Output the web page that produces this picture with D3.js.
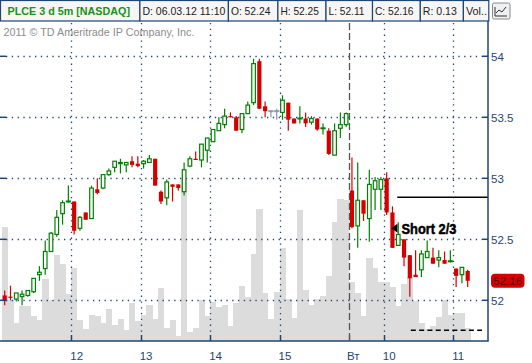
<!DOCTYPE html>
<html>
<head>
<meta charset="utf-8">
<script src="https://cdn.jsdelivr.net/npm/d3@7"></script>
<style>
  body { margin: 0; background: #fff; }
  svg { display: block; font-family: "Liberation Sans", Arial, sans-serif; }
</style>
</head>
<body>
<div id="chart"></div>
<script>
// ------------------------------------------------------------------
// Data (5 min bars, PLCE)
var times = [
  "05.03 11:00","05.03 11:05","05.03 11:10","05.03 11:15","05.03 11:20","05.03 11:25","05.03 11:30","05.03 11:35","05.03 11:40","05.03 11:45","05.03 11:50","05.03 11:55",
  "05.03 12:00","05.03 12:05","05.03 12:10","05.03 12:15","05.03 12:20","05.03 12:25","05.03 12:30","05.03 12:35","05.03 12:40","05.03 12:45","05.03 12:50","05.03 12:55",
  "05.03 13:00","05.03 13:05","05.03 13:10","05.03 13:15","05.03 13:20","05.03 13:25","05.03 13:30","05.03 13:35","05.03 13:40","05.03 13:45","05.03 13:50","05.03 13:55",
  "05.03 14:00","05.03 14:05","05.03 14:10","05.03 14:15","05.03 14:20","05.03 14:25","05.03 14:30","05.03 14:35","05.03 14:40","05.03 14:45","05.03 14:50","05.03 14:55",
  "05.03 15:00","05.03 15:05","05.03 15:10","05.03 15:15","05.03 15:20","05.03 15:25","05.03 15:30","05.03 15:35","05.03 15:40","05.03 15:45","05.03 15:50","05.03 15:55",
  "06.03 09:30","06.03 09:35","06.03 09:40","06.03 09:45","06.03 09:50","06.03 09:55",
  "06.03 10:00","06.03 10:05","06.03 10:10","06.03 10:15","06.03 10:20","06.03 10:25","06.03 10:30","06.03 10:35","06.03 10:40","06.03 10:45","06.03 10:50","06.03 10:55",
  "06.03 11:00","06.03 11:05","06.03 11:10"
];
var open = [
  52.04,52.03,52.01,52.03,52.04,52.07,52.21,52.26,52.40,52.54,52.71,52.81,
  52.81,52.59,52.72,52.67,52.91,52.92,53.03,53.09,53.12,53.11,53.14,53.12,
  53.12,53.13,53.16,52.89,52.84,52.95,52.95,52.89,53.10,53.16,53.15,53.23,
  53.30,53.39,53.44,53.51,53.50,53.40,53.53,53.62,53.96,53.59,53.55,53.55,
  53.54,53.62,53.49,53.49,53.49,53.46,53.49,53.41,53.39,53.19,53.41,53.44,
  52.90,52.61,52.82,52.67,52.91,52.91,
  53.00,52.72,52.45,52.50,52.37,52.21,52.25,52.35,52.35,52.33,52.33,52.32,
  52.26,52.21,52.24
];
var high = [
  52.08,52.12,52.06,52.08,52.08,52.18,52.28,52.49,52.56,52.74,52.82,52.94,
  52.81,52.69,52.72,52.94,53.00,53.03,53.08,53.14,53.16,53.13,53.18,53.18,
  53.15,53.19,53.16,52.90,52.99,52.95,52.95,53.13,53.18,53.22,53.28,53.33,
  53.40,53.50,53.57,53.54,53.51,53.53,53.63,53.98,53.98,53.63,53.55,53.57,
  53.68,53.62,53.49,53.59,53.54,53.51,53.49,53.45,53.41,53.45,53.54,53.54,
  53.17,53.13,52.82,53.07,53.01,53.01,
  53.05,52.77,52.64,52.50,52.37,52.41,52.41,52.49,52.43,52.41,52.40,52.41,
  52.26,52.27,52.25
];
var low = [
  51.96,52.00,51.99,51.96,52.03,52.06,52.16,52.21,52.40,52.52,52.62,52.80,
  52.54,52.57,52.66,52.67,52.87,52.91,53.02,53.05,53.04,53.05,53.09,53.09,
  53.08,53.13,52.94,52.79,52.78,52.81,52.90,52.86,53.09,53.15,53.09,53.13,
  53.30,53.39,53.41,53.50,53.39,53.37,53.53,53.60,53.57,53.50,53.50,53.48,
  53.48,53.39,53.45,53.45,53.42,53.44,53.39,53.36,53.19,53.19,53.33,53.42,
  52.59,52.43,52.65,52.48,52.74,52.74,
  52.70,52.43,52.45,52.28,52.03,52.19,52.19,52.35,52.30,52.27,52.30,52.31,
  52.11,52.14,52.11
];
var close = [
  52.00,52.02,52.06,52.05,52.08,52.18,52.23,52.40,52.55,52.68,52.80,52.81,
  52.57,52.68,52.66,52.92,52.88,53.03,53.06,53.14,53.13,53.13,53.11,53.10,
  53.14,53.16,52.94,52.81,52.97,52.93,52.92,53.07,53.16,53.15,53.28,53.33,
  53.40,53.45,53.51,53.50,53.39,53.53,53.60,53.94,53.57,53.55,53.55,53.55,
  53.64,53.48,53.45,53.49,53.45,53.49,53.40,53.41,53.20,53.39,53.44,53.53,
  52.60,52.82,52.71,52.95,52.98,52.99,
  52.72,52.43,52.54,52.35,52.18,52.19,52.38,52.40,52.30,52.35,52.30,52.32,
  52.20,52.27,52.16
];
var volume = [
  114000,41000,18000,35000,35000,25000,21000,62000,41000,86000,77000,47000,
  73000,21000,12000,26000,25000,18000,32000,16000,22000,11000,38000,20000,
  26000,36000,22000,53000,13000,21000,5000,163000,9000,13000,41000,25000,
  39000,34000,36000,15000,38000,55000,44000,87000,132000,48000,22000,49000,
  93000,42000,23000,131000,51000,36000,42000,45000,65000,119000,142000,141000,
  59000,48000,25000,83000,73000,59000,
  59000,54000,35000,57000,64000,40000,18000,12000,15000,24000,41000,26000,
  28000,28000,13000
];
var tickTimes  = ["05.03 12:00","05.03 13:00","05.03 14:00","05.03 15:00","06.03 09:30","06.03 10:00","06.03 11:00"];
var tickLabels = ["12","13","14","15","Вт","10","11"];
var priceTicks = [52, 52.5, 53, 53.5, 54];
var title = "PLCE 3 d 5m [NASDAQ]";
var headerCells = ["D: 06.03.12 11:10","O: 52.24","H: 52.25","L: 52.11","C: 52.16","R: 0.13","Vol.."];
var lastPrice = 52.16;
var stopLevel = 52.845;
var volLevel = 10700;
var noteText = "Short 2/3";
var notePrice = 52.59;

// ------------------------------------------------------------------
// Layout
var width = 532, height = 363;
var plotRight = 488, plotTop = 21, plotBottom = 341;
var navy = "#1f4573", green = "#008000", red = "#d40000", grey = "#8a9bb0";

var svg = d3.select("#chart").append("svg")
  .attr("width", width)
  .attr("height", height);

var x = d3.scaleBand().domain(times).range([1.8, 1.8 + times.length * 5.7875]);
var bw = x.bandwidth();
var y = d3.scaleLinear().domain([52, 54]).range([300.3, 56.3]);
var yv = d3.scaleLinear().domain([0, 170000]).range([plotBottom, plotBottom - 170]);

var bars = times.map(function(t, i) {
  return { t: t, o: open[i], h: high[i], l: low[i], c: close[i], v: volume[i], pc: i > 0 ? close[i - 1] : open[i] };
});

// ------------------------------------------------------------------
// volume
svg.append("g").selectAll("rect")
  .data(bars).enter().append("rect")
  .attr("x", function(d) { return x(d.t); })
  .attr("width", bw + 0.4)
  .attr("y", function(d) { return yv(d.v); })
  .attr("height", function(d) { return plotBottom - yv(d.v); })
  .attr("fill", "#dcdcdc")
  .attr("shape-rendering", "crispEdges");

// ------------------------------------------------------------------
// grid
var grid = svg.append("g");
grid.selectAll(".hg").data(priceTicks).enter().append("line")
  .attr("x1", 6).attr("x2", plotRight - 6)
  .attr("y1", function(d) { return Math.round(y(d)) + 0.5; })
  .attr("y2", function(d) { return Math.round(y(d)) + 0.5; })
  .attr("stroke", navy).attr("stroke-width", 1.3)
  .attr("stroke-dasharray", "1.3,4.5");

grid.selectAll(".vg").data(tickTimes).enter().append("line")
  .attr("x1", function(d) { return Math.round(x(d)) + 0.5; })
  .attr("x2", function(d) { return Math.round(x(d)) + 0.5; })
  .attr("y1", plotTop + 2).attr("y2", plotBottom - 6)
  .attr("stroke", function(d, i) { return tickLabels[i] == "Вт" ? "#555" : navy; })
  .attr("stroke-width", 1.3)
  .attr("stroke-dasharray", function(d, i) { return tickLabels[i] == "Вт" ? "7,3" : "1.3,4.5"; });

// ------------------------------------------------------------------
// candles
var cg = svg.append("g").selectAll("g")
  .data(bars).enter().append("g");

function colorOf(d) {
  if (d.c > d.o) return green;
  if (d.c < d.o) return red;
  if (d.c > d.pc) return green;
  if (d.c < d.pc) return red;
  return grey;
}

cg.append("line")
  .attr("x1", function(d) { return x(d.t) + bw / 2; })
  .attr("x2", function(d) { return x(d.t) + bw / 2; })
  .attr("y1", function(d) { return y(d.h); })
  .attr("y2", function(d) { return y(d.l); })
  .attr("stroke", colorOf)
  .attr("stroke-width", 1.2);

cg.append("rect")
  .attr("x", function(d) {
    var cx = x(d.t) + bw / 2;
    if (d.c > d.o) return cx - 1.8;
    if (d.c < d.o) return cx - 2.1;
    return cx - 2.6;
  })
  .attr("width", function(d) { return d.c > d.o ? 3.6 : (d.c < d.o ? 4.2 : 5.2); })
  .attr("y", function(d) { return d.c == d.o ? y(d.c) - 1 : y(Math.max(d.o, d.c)); })
  .attr("height", function(d) { return d.c == d.o ? 2 : Math.max(1, Math.abs(y(d.o) - y(d.c))); })
  .attr("fill", function(d) { return d.c > d.o ? "#fff" : colorOf(d); })
  .attr("stroke", function(d) { return d.c > d.o ? green : "none"; })
  .attr("stroke-width", 1.2);

// ------------------------------------------------------------------
// annotations
var stopX = x(times[68]) + bw / 2 - 1;
svg.append("line")
  .attr("x1", stopX).attr("x2", plotRight)
  .attr("y1", y(stopLevel)).attr("y2", y(stopLevel))
  .attr("stroke", "#000").attr("stroke-width", 1.5);

svg.append("line")
  .attr("x1", x(times[70]) + bw / 2 + 1).attr("x2", plotRight - 6)
  .attr("y1", yv(volLevel)).attr("y2", yv(volLevel))
  .attr("stroke", "#000").attr("stroke-width", 1.5)
  .attr("stroke-dasharray", "5,3.3");

var nx = x(times[67]) + bw / 2 - 1, ny = y(notePrice);
svg.append("path")
  .attr("d", "M" + nx + "," + ny + "L" + (nx + 6) + "," + (ny - 4.5) + "L" + (nx + 6) + "," + (ny + 4.5) + "Z")
  .attr("fill", "#000");
svg.append("text")
  .attr("x", nx + 10).attr("y", ny + 5.8)
  .attr("font-size", 15).attr("font-weight", "bold")
  .attr("textLength", 55).attr("lengthAdjust", "spacingAndGlyphs")
  .attr("fill", "#000").attr("stroke", "#000").attr("stroke-width", 0.5)
  .text(noteText);

// ------------------------------------------------------------------
// axes
svg.append("line")
  .attr("x1", 0).attr("x2", plotRight + 0.75)
  .attr("y1", plotBottom).attr("y2", plotBottom)
  .attr("stroke", navy).attr("stroke-width", 1.5);
svg.append("line")
  .attr("x1", plotRight).attr("x2", plotRight)
  .attr("y1", plotTop).attr("y2", plotBottom)
  .attr("stroke", navy).attr("stroke-width", 1.5);

svg.selectAll(".lt").data(priceTicks).enter().append("line")
  .attr("x1", 0).attr("x2", 6)
  .attr("y1", function(d) { return y(d); }).attr("y2", function(d) { return y(d); })
  .attr("stroke", navy).attr("stroke-width", 1.5);
svg.selectAll(".rt").data(priceTicks).enter().append("line")
  .attr("x1", plotRight - 6).attr("x2", plotRight)
  .attr("y1", function(d) { return y(d); }).attr("y2", function(d) { return y(d); })
  .attr("stroke", navy).attr("stroke-width", 1.5);
svg.selectAll(".rl").data(priceTicks).enter().append("text")
  .attr("x", plotRight + 3).attr("y", function(d) { return y(d) + 4.2; })
  .attr("font-size", 11.5).attr("fill", navy)
  .text(function(d) { return d3.format("")(d); });

svg.selectAll(".bt").data(tickTimes).enter().append("line")
  .attr("x1", function(d) { return Math.round(x(d)) + 0.5; })
  .attr("x2", function(d) { return Math.round(x(d)) + 0.5; })
  .attr("y1", plotBottom - 6).attr("y2", plotBottom)
  .attr("stroke", function(d, i) { return tickLabels[i] == "Вт" ? "#555" : navy; })
  .attr("stroke-width", 1.5);
svg.selectAll(".bl").data(tickTimes).enter().append("text")
  .attr("x", function(d, i) { return x(d) - (tickLabels[i] == "Вт" ? 2 : 1); })
  .attr("y", 360)
  .attr("font-size", 11.5).attr("fill", navy)
  .text(function(d, i) { return tickLabels[i]; });

// last price tag
svg.append("rect")
  .attr("x", 491).attr("y", y(lastPrice) - 7).attr("width", 33.5).attr("height", 14)
  .attr("rx", 4).attr("fill", red);
svg.append("text")
  .attr("x", 507.7).attr("y", y(lastPrice) + 4.2)
  .attr("text-anchor", "middle").attr("font-size", 11.5).attr("fill", "#5c0000")
  .text(d3.format(".2f")(lastPrice));

// ------------------------------------------------------------------
// header
var cellEdges = [0, 139.4, 227.9, 277.4, 325.5, 372, 419.8, 462.9, 488.3];
var hg = svg.append("g");
for (var i = 0; i < cellEdges.length - 1; i++) {
  hg.append("rect")
    .attr("x", cellEdges[i] + 0.5).attr("y", 0.5)
    .attr("width", cellEdges[i + 1] - cellEdges[i]).attr("height", 20.5)
    .attr("fill", "#f6f6f6").attr("stroke", navy).attr("stroke-width", 1.2);
}
hg.append("text")
  .attr("x", 7.5).attr("y", 15)
  .attr("font-size", 11).attr("font-weight", "bold").attr("fill", "#169216")
  .attr("textLength", 122.5).attr("lengthAdjust", "spacingAndGlyphs")
  .text(title);
var cellWidths = [83, 39.5, 38.5, 36, 38.5, 34, 21];
headerCells.forEach(function(s, i) {
  hg.append("text")
    .attr("x", cellEdges[i + 1] + 3).attr("y", 15)
    .attr("font-size", 11).attr("fill", "#222")
    .attr("textLength", cellWidths[i]).attr("lengthAdjust", "spacingAndGlyphs")
    .text(s);
});
// little settings icon
hg.append("rect")
  .attr("x", 492.5).attr("y", 3).attr("width", 17.5).attr("height", 16)
  .attr("fill", "#eef0f2").attr("stroke", "#8a8a8a").attr("rx", 1.5);
hg.append("path")
  .attr("d", "M495,16 L495,7 M495,16 L507,16 M496,13 L499,10 L502,12 L506,7")
  .attr("fill", "none").attr("stroke", "#333").attr("stroke-width", 1);

svg.append("text")
  .attr("x", 3.4).attr("y", 36)
  .attr("font-size", 11).attr("fill", "#8c8c8c")
  .attr("textLength", 191).attr("lengthAdjust", "spacingAndGlyphs")
  .text("2011 \u00a9 TD Ameritrade IP Company, Inc.");
</script>
</body>
</html>
